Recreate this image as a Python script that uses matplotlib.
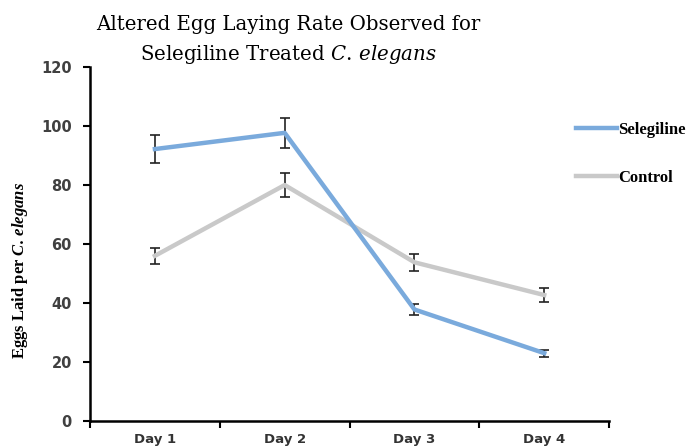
import matplotlib
matplotlib.use("Agg")
import matplotlib.pyplot as plt
from matplotlib.lines import Line2D

days = ["Day 1", "Day 2", "Day 3", "Day 4"]
selegiline = [92.2, 97.7, 37.8, 23.0]
selegiline_err = [4.6, 5.0, 1.8, 1.2]
control = [56.0, 80.0, 53.8, 42.7]
control_err = [2.8, 4.0, 2.8, 2.3]

blue = "#7aaadc"
grey = "#c9c9c9"

plt.rcParams["mathtext.fontset"] = "custom"
plt.rcParams["mathtext.rm"] = "DejaVu Serif"
plt.rcParams["mathtext.it"] = "DejaVu Serif:italic"
plt.rcParams["mathtext.bf"] = "Liberation Serif:bold"
plt.rcParams["mathtext.bfit"] = "Liberation Serif:bold:italic"

fig = plt.figure(figsize=(6.94, 4.48), dpi=100)
ax = fig.add_axes([0.1297, 0.0603, 0.748, 0.790])

x = list(range(len(days)))
ax.errorbar(x, selegiline, yerr=selegiline_err, color=blue, lw=3.2,
            ecolor="#222222", elinewidth=1.2, capsize=3.5, capthick=1.2, zorder=3)
ax.errorbar(x, control, yerr=control_err, color=grey, lw=3.2,
            ecolor="#222222", elinewidth=1.2, capsize=3.5, capthick=1.2, zorder=2)

ax.set_xlim(-0.5, 3.5)
ax.set_ylim(0, 120)
ax.set_yticks(range(0, 121, 20))
ax.set_xticks(x)
ax.set_xticklabels(days)
ax.set_xticks([-0.5, 0.5, 1.5, 2.5, 3.5], minor=True)
ax.tick_params(axis="x", which="major", length=0, pad=9)
ax.tick_params(axis="x", which="minor", length=5, width=1.5)
ax.tick_params(axis="y", length=5, width=1.5, pad=8)
for lab in ax.get_xticklabels():
    lab.set_fontweight("bold")
    lab.set_fontsize(9.5)
    lab.set_color("#333333")
for lab in ax.get_yticklabels():
    lab.set_fontweight("bold")
    lab.set_fontsize(10.5)
    lab.set_color("#404040")

for s in ["top", "right"]:
    ax.spines[s].set_visible(False)
for s in ["left", "bottom"]:
    ax.spines[s].set_linewidth(1.8)

ax.set_ylabel(r"Eggs Laid per $\mathbfit{C.\!}$ $\mathbfit{elegans}$", family="Liberation Serif",
              fontweight="bold", fontsize=12)
ax.yaxis.set_label_coords(-0.115, 0.424)

fig.text(0.415, 0.945, "Altered Egg Laying Rate Observed for", ha="center",
         va="center", family="DejaVu Serif", fontsize=14.2)
fig.text(0.415, 0.878, r"Selegiline Treated $\mathit{C.\!}$ $\mathit{elegans}$", ha="center",
         va="center", family="DejaVu Serif", fontsize=14.2)

handles = [Line2D([], [], color=blue, lw=3.2), Line2D([], [], color=grey, lw=3.2)]
fig.legend(handles, ["Selegiline", "Control"], loc="center left",
           bbox_to_anchor=(0.808, 0.656), frameon=False,
           handlelength=2.5, handletextpad=0.05, labelspacing=1.9,
           prop={"family": "Liberation Serif", "weight": "bold", "size": 12})

fig.savefig("out.png", dpi=100)
